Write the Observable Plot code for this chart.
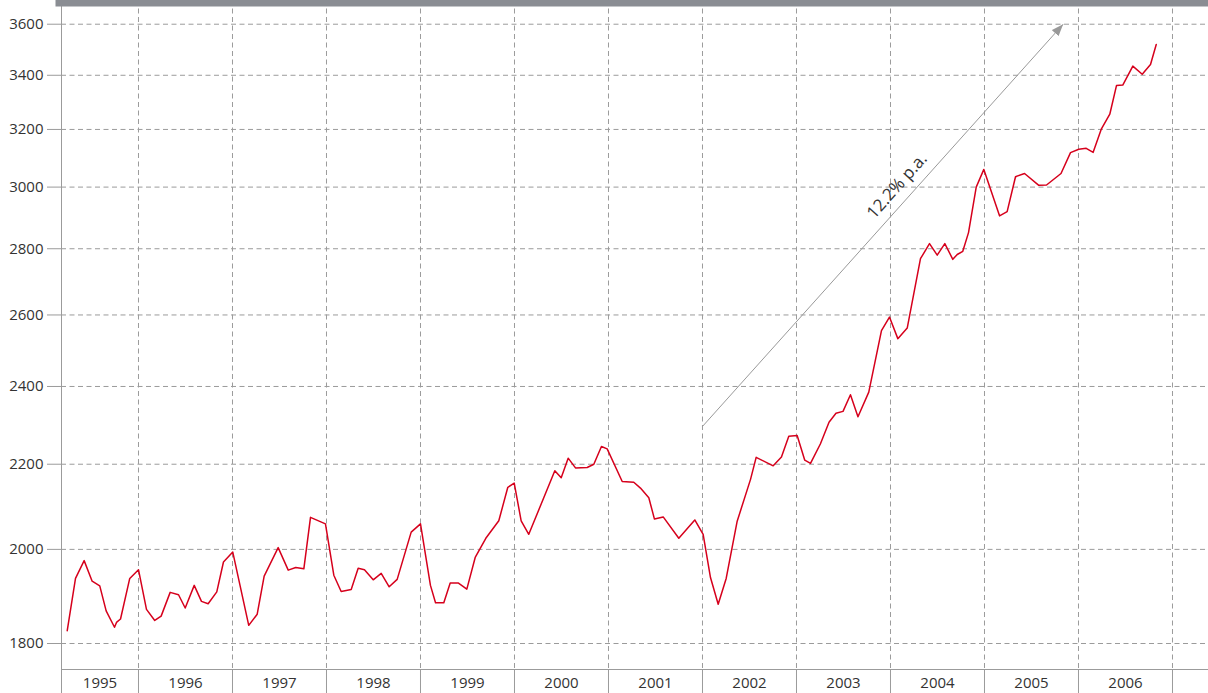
<!DOCTYPE html>
<html><head><meta charset="utf-8">
<script src="https://cdn.jsdelivr.net/npm/d3@7"></script>
<script src="https://cdn.jsdelivr.net/npm/@observablehq/plot@0.6"></script>
<style>html,body{margin:0;padding:0;background:#fff;} svg{display:block}</style>
</head><body><div id="chart"></div>
<script>
// Decimal-year position of each observation
const dates = [
  1995.242, 1995.330, 1995.422, 1995.507, 1995.588, 1995.656, 1995.745, 1995.766, 1995.809, 1995.907,
  1996.000, 1996.085, 1996.173, 1996.241, 1996.337, 1996.426, 1996.497, 1996.593, 1996.670, 1996.741,
  1996.833, 1996.904, 1997.003, 1997.173, 1997.263, 1997.337, 1997.486, 1997.593, 1997.673, 1997.759,
  1997.830, 1997.989, 1998.078, 1998.156, 1998.263, 1998.337, 1998.404, 1998.497, 1998.582, 1998.667,
  1998.752, 1998.901, 1999.000, 1999.106, 1999.160, 1999.248, 1999.316, 1999.404, 1999.493, 1999.582,
  1999.695, 1999.833, 1999.929, 1999.997, 2000.071, 2000.152, 2000.429, 2000.497, 2000.571, 2000.649,
  2000.773, 2000.844, 2000.925, 2000.986, 2001.146, 2001.269, 2001.340, 2001.429, 2001.489, 2001.582,
  2001.748, 2001.918, 2002.007, 2002.085, 2002.167, 2002.252, 2002.369, 2002.511, 2002.571, 2002.752,
  2002.840, 2002.918, 2003.007, 2003.088, 2003.149, 2003.255, 2003.346, 2003.420, 2003.495, 2003.574,
  2003.654, 2003.769, 2003.904, 2003.989, 2004.078, 2004.178, 2004.319, 2004.415, 2004.497, 2004.578,
  2004.663, 2004.710, 2004.769, 2004.830, 2004.912, 2004.993, 2005.160, 2005.241, 2005.330, 2005.426,
  2005.578, 2005.660, 2005.814, 2005.915, 2006.003, 2006.082, 2006.156, 2006.241, 2006.333, 2006.404,
  2006.471, 2006.578, 2006.678, 2006.766, 2006.827
];
const values = [
  1826, 1936, 1975, 1930, 1920, 1867, 1833, 1843, 1850, 1936,
  1955, 1870, 1847, 1856, 1906, 1901, 1873, 1921, 1887, 1882,
  1907, 1972, 1994, 1837, 1860, 1941, 2004, 1954, 1960, 1957,
  2073, 2058, 1943, 1908, 1912, 1958, 1955, 1933, 1947, 1918,
  1934, 2039, 2058, 1921, 1884, 1884, 1926, 1926, 1913, 1982,
  2025, 2065, 2144, 2154, 2065, 2034, 2184, 2167, 2215, 2191,
  2192, 2200, 2244, 2238, 2158, 2156, 2142, 2119, 2069, 2074,
  2025, 2067, 2034, 1938, 1881, 1936, 2064, 2163, 2217, 2196,
  2218, 2270, 2272, 2210, 2202, 2251, 2306, 2329, 2334, 2378,
  2320, 2385, 2555, 2594, 2532, 2562, 2769, 2816, 2780, 2816,
  2767, 2782, 2792, 2851, 3000, 3060, 2905, 2919, 3035, 3046,
  3006, 3007, 3046, 3118, 3130, 3133, 3119, 3200, 3255, 3361,
  3363, 3435, 3404, 3441, 3519
];
const yTicks = [1800, 2000, 2200, 2400, 2600, 2800, 3000, 3200, 3400, 3600];
const yearBounds = [1996, 1997, 1998, 1999, 2000, 2001, 2002, 2003, 2004, 2005, 2006, 2007];
const yearLabels = [1995, 1996, 1997, 1998, 1999, 2000, 2001, 2002, 2003, 2004, 2005, 2006];
const trendFrom = [2002.0, 2295];
const trendTo = [2005.837, 3600];
const trendLabel = "12.2% p.a.";
const trendLabelAt = [2004.07, 3004];

const xDomain = [1995.181, 2007.383];
const yDomain = [1748.4, 3696.8];

const data = dates.map((t, i) => ({t, v: values[i]}));
const labelPos = yearLabels.map(y => (Math.max(y, xDomain[0]) + y + 1) / 2);
const trend = [{x1: trendFrom[0], y1: trendFrom[1], x2: trendTo[0], y2: trendTo[1]}];
const gridGray = "#9b9b9b";

function filledArrow(color) {
  return d3.create("svg:marker")
    .attr("viewBox", "-12 -5 12 10")
    .attr("markerWidth", 12).attr("markerHeight", 10)
    .attr("markerUnits", "userSpaceOnUse")
    .attr("refX", 0).attr("refY", 0)
    .attr("orient", "auto")
    .call(m => m.append("path").attr("d", "M-12,-4.5L0,0L-12,4.5Z").attr("fill", color).attr("stroke", "none"))
    .node();
}

const chart = Plot.plot({
  width: 1208, height: 693,
  marginLeft: 61, marginRight: 0, marginTop: 0, marginBottom: 24,
  style: {fontFamily: "'Open Sans', sans-serif", fontSize: "15px", color: "#333", background: "#fff"},
  x: {type: "linear", domain: xDomain},
  y: {type: "log", domain: yDomain},
  marks: [
    Plot.ruleY(yTicks, {stroke: gridGray, strokeDasharray: "5,3.5"}),
    Plot.ruleX(yearBounds, {stroke: gridGray, strokeDasharray: "5,3.5"}),
    Plot.axisY(yTicks, {tickSize: 14, tickPadding: 4, stroke: gridGray, fill: "#333", tickFormat: d => `${d}`, label: null}),
    Plot.axisX([xDomain[0], ...yearBounds], {tickSize: 24, tickFormat: () => "", stroke: gridGray, label: null}),
    Plot.axisX(labelPos, {tickSize: 0, tickPadding: 8, tickFormat: d => `${Math.floor(d)}`, fill: "#333", label: null}),
    Plot.frame({anchor: "left", stroke: gridGray}),
    Plot.frame({anchor: "bottom", stroke: gridGray}),
    Plot.line(data, {x: "t", y: "v", stroke: "#d6001c", strokeWidth: 1.5}),
    Plot.link(trend, {x1: "x1", y1: "y1", x2: "x2", y2: "y2", stroke: "#999", strokeWidth: 1, markerEnd: filledArrow}),
    Plot.text([trendLabel], {x: () => trendLabelAt[0], y: () => trendLabelAt[1], text: d => d, rotate: -48.2, fill: "#333", fontSize: 17}),
    Plot.frame({anchor: "top", stroke: "#8a8d93", strokeWidth: 12})
  ]
});
document.getElementById("chart").appendChild(chart);
</script>
</body></html>
